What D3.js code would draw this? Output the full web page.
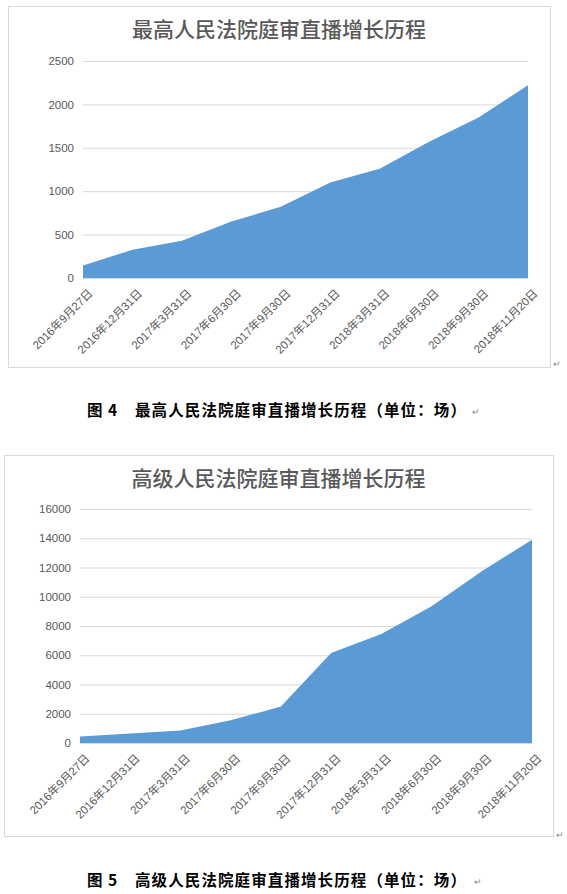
<!DOCTYPE html>
<html>
<head>
<meta charset="utf-8">
<script src="https://cdn.jsdelivr.net/npm/d3@7"></script>
<style>
	body { margin: 0; background: #fff; }
	svg { display: block; }
	text { font-family: 'Liberation Sans', 'Noto Sans CJK SC', sans-serif; }
</style>
</head>
<body>
<div id="page"></div>
<script>

const dates = ['2016年9月27日', '2016年12月31日', '2017年3月31日', '2017年6月30日', '2017年9月30日',
	'2017年12月31日', '2018年3月31日', '2018年6月30日', '2018年9月30日', '2018年11月20日'];

const supremeCounts = [145, 325, 430, 650, 820, 1100, 1260, 1570, 1850, 2220];
const highCounts = [450, 650, 850, 1550, 2500, 6150, 7450, 9350, 11750, 13900];

const supremeTicks = [0, 500, 1000, 1500, 2000, 2500];
const highTicks = [0, 2000, 4000, 6000, 8000, 10000, 12000, 14000, 16000];

const svg = d3.select('#page')
	.append('svg')
		.attr('width', 567)
		.attr('height', 894);

class AreaChart {

	constructor(options) {
		this.svg = options.svg;
		this.box = options.box;
		this.plot = options.plot;
		this.title = options.title;
		this.values = options.values;
		this.ticks = options.ticks;
		this.draw();
	}

	draw() {
		this.createFrame();
		this.createScales();
		this.createAxes();
		this.createArea();
	}

	createFrame() {
		const b = this.box;
		this.svg.append('rect')
			.attr('x', b.x + 0.5)
			.attr('y', b.y + 0.5)
			.attr('width', b.w)
			.attr('height', b.h)
			.attr('fill', '#fff')
			.attr('stroke', '#d9d9d9');

		this.svg.append('text')
			.attr('x', b.x + b.w / 2)
			.attr('y', b.y + 31)
			.attr('text-anchor', 'middle')
			.attr('fill', '#595959')
			.style('font-family', "'Noto Sans CJK SC', sans-serif")
			.style('font-size', '21px')
			.style('font-weight', 500)
			.text(this.title);
	}

	createScales() {
		const p = this.plot;
		this.xScale = d3.scalePoint()
			.domain(dates)
			.range([p.left, p.right]);

		this.yScale = d3.scaleLinear()
			.domain([0, d3.max(this.ticks)])
			.range([p.bottom, p.top]);
	}

	createAxes() {
		const p = this.plot;

		const grid = this.svg.append('g')
			.attr('transform', `translate(${p.left}, 0)`)
			.call(d3.axisLeft(this.yScale)
				.tickValues(this.ticks)
				.tickSize(-(p.right - p.left))
				.tickPadding(9)
				.tickFormat(d3.format('d')));

		grid.select('.domain').remove();
		grid.selectAll('.tick line').attr('stroke', '#d9d9d9');
		grid.selectAll('.tick text')
			.attr('fill', '#595959')
			.style('font-size', '11.5px');

		const xAxis = this.svg.append('g')
			.attr('transform', `translate(0, ${p.bottom})`)
			.call(d3.axisBottom(this.xScale).tickSize(0));

		xAxis.select('.domain').attr('stroke', '#d9d9d9');
		xAxis.selectAll('.tick text')
			.attr('fill', '#595959')
			.style('font-size', '11.5px')
			.attr('text-anchor', 'end')
			.attr('y', 0)
			.attr('dy', 0)
			.attr('transform', 'translate(10, 16) rotate(-45)');
	}

	createArea() {
		const that = this;
		const area = d3.area()
			.x((d, i) => that.xScale(dates[i]))
			.y0(that.yScale(0))
			.y1(d => that.yScale(d));

		this.svg.append('path')
			.datum(this.values)
			.attr('fill', '#5b9bd5')
			.attr('d', area);
	}

}

new AreaChart({
	svg: svg,
	box: { x: 8, y: 6, w: 542, h: 361 },
	plot: { left: 83, right: 528, top: 61, bottom: 278 },
	title: '最高人民法院庭审直播增长历程',
	values: supremeCounts,
	ticks: supremeTicks
});

new AreaChart({
	svg: svg,
	box: { x: 4, y: 455, w: 549, h: 381 },
	plot: { left: 80, right: 532, top: 509, bottom: 743 },
	title: '高级人民法院庭审直播增长历程',
	values: highCounts,
	ticks: highTicks
});

// captions and paragraph marks
const captions = [
	{ num: '图 4', text: '最高人民法院庭审直播增长历程（单位：场）', y: 416 },
	{ num: '图 5', text: '高级人民法院庭审直播增长历程（单位：场）', y: 886 }
];

captions.forEach(c => {
	svg.append('text')
		.attr('x', 87)
		.attr('y', c.y)
		.style('font-family', "'Noto Sans CJK SC', sans-serif")
		.style('font-size', '15.5px')
		.style('font-weight', 700)
		.style('letter-spacing', '1px')
		.attr('fill', '#000')
		.text(c.num);
	svg.append('text')
		.attr('x', 135)
		.attr('y', c.y)
		.style('font-family', "'Noto Sans CJK SC', sans-serif")
		.style('font-size', '15.5px')
		.style('font-weight', 700)
		.style('letter-spacing', '1.1px')
		.attr('fill', '#000')
		.text(c.text);
});

const marks = [[553, 367], [472, 415], [556, 838], [474, 885]];
svg.selectAll('text.mark')
	.data(marks)
	.join('text')
		.attr('class', 'mark')
		.attr('x', d => d[0])
		.attr('y', d => d[1])
		.attr('fill', '#888')
		.style('font-size', '9px')
		.text('↵');

</script>
</body>
</html>
